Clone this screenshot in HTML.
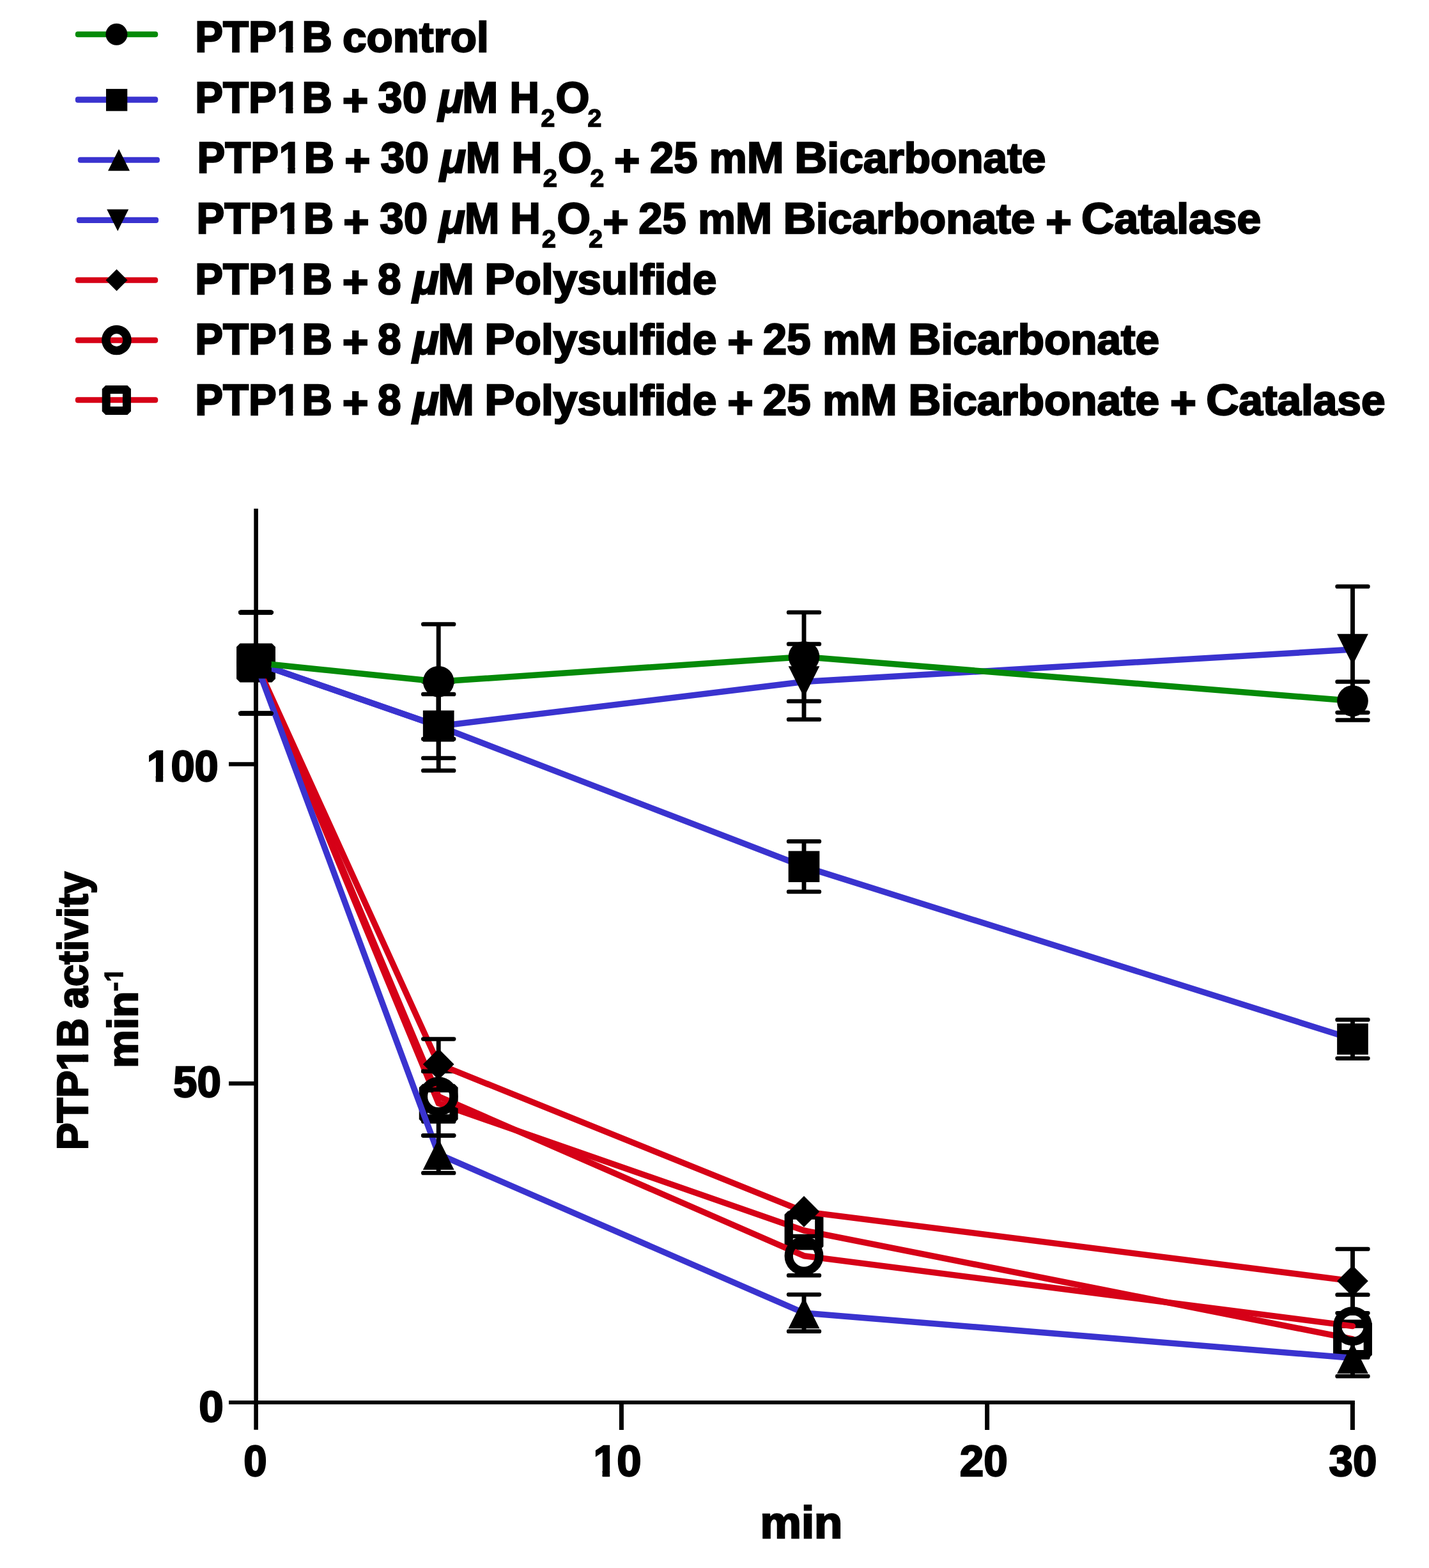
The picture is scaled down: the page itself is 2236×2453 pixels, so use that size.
<!DOCTYPE html>
<html lang="en"><head><meta charset="utf-8"><title>PTP1B activity</title>
<style>
html,body{margin:0;padding:0;background:#fff;}
body{width:2236px;height:2453px;overflow:hidden;}
svg{display:block;}
text{font-family:"Liberation Sans",sans-serif;font-weight:bold;fill:#000;stroke:#000;stroke-linejoin:miter;font-kerning:none;white-space:pre;}
.i{font-style:italic;}
.ln{fill:none;stroke-width:9.5;stroke-linecap:round;stroke-linejoin:round;}
.cap{fill:#000;stroke:none;}
.ebv{fill:none;stroke:#000;stroke-width:6.9;stroke-linecap:butt;}
.ax{fill:none;stroke:#000;stroke-width:6.4;stroke-linecap:butt;}
.m{fill:#000;stroke:none;}
.m .o{fill:none;stroke:#000;stroke-width:13.3;stroke-linejoin:bevel;}
</style></head><body>
<svg width="2236" height="2453" viewBox="0 0 2236 2453">
<rect width="2236" height="2453" fill="#fff"/>
<defs><clipPath id="nofoot" clipPathUnits="userSpaceOnUse"><path clip-rule="evenodd" d="M-10 -10H2246V2463H-10ZM434.86 71.73H447.18V83.9H434.86ZM458.35 71.73H469.91V83.9H458.35ZM434.86 166.63H447.18V178.8H434.86ZM458.35 166.63H469.91V178.8H458.35ZM438.16 260.53H450.48V272.7H438.16ZM461.65 260.53H473.21V272.7H461.65ZM437.16 355.73H449.48V367.9H437.16ZM460.65 355.73H472.21V367.9H460.65ZM434.86 450.43H447.18V462.6H434.86ZM458.35 450.43H469.91V462.6H458.35ZM434.86 544.43H447.18V556.6H434.86ZM458.35 544.43H469.91V556.6H458.35ZM434.86 639.63H447.18V651.8H434.86ZM458.35 639.63H469.91V651.8H458.35ZM929.94 2299.83H942.62V2312H929.94ZM954.15 2299.83H966.04V2312H954.15ZM231.15 1212.93H243.73V1225.1H231.15ZM255.15 1212.93H266.95V1225.1H255.15ZM127.63 1661.22H139.8V1673.75H127.63ZM127.63 1638.1H139.8V1649.85H127.63ZM186.62 1527.93H195.35V1535.8H186.62ZM186.62 1513.71H195.35V1521.15H186.62Z"/></clipPath></defs>
<g class="ax">
<path stroke-width="6.6" d="M400.6 795.8V2236.8"/>
<path stroke-width="6" d="M358 2194H2119.9"/>
<path stroke-width="7" d="M972.4 2194V2236.9M1544.6 2194V2236.9M2116.4 2194V2236.9"/>
<path stroke-width="6.5" d="M358 1694.9H400.6M358 1195.5H400.6"/>
</g>
<g id="sG">
<path class="ln" stroke="#d60017" d="M400.5 1037L686.2 1726.1L1258 1925L2116.5 2094.9"/>
<path class="ebv" d="M400.5 958V1019.8M400.5 1054.2V1116M686.2 1675.8V1708.9M686.2 1743.3V1776.4"/>
<g class="cap"><rect x="373.3" y="954.75" width="54.4" height="6.5" rx="3.1"/><rect x="373.3" y="1112.75" width="54.4" height="6.5" rx="3.1"/><rect x="659" y="1672.55" width="54.4" height="6.5" rx="3.1"/><rect x="659" y="1773.15" width="54.4" height="6.5" rx="3.1"/></g>
<g class="m"><path fill-rule="evenodd" d="M375.55 1006.55H425.45L430.95 1012.05V1061.95L425.45 1067.45H375.55L370.05 1061.95V1012.05ZM383.35 1019.85H417.65V1054.15H383.35Z"/><path fill-rule="evenodd" d="M661.25 1695.65H711.15L716.65 1701.15V1751.05L711.15 1756.55H661.25L655.75 1751.05V1701.15ZM669.05 1708.95H703.35V1743.25H669.05Z"/><path fill-rule="evenodd" d="M1233.05 1894.55H1282.95L1288.45 1900.05V1949.95L1282.95 1955.45H1233.05L1227.55 1949.95V1900.05ZM1240.85 1907.85H1275.15V1942.15H1240.85Z"/><path fill-rule="evenodd" d="M2091.55 2064.45H2141.45L2146.95 2069.95V2119.85L2141.45 2125.35H2091.55L2086.05 2119.85V2069.95ZM2099.35 2077.75H2133.65V2112.05H2099.35Z"/></g>
</g>
<g id="sF">
<path class="ln" stroke="#d60017" d="M400.5 1037L686.2 1715.3L1258 1964.7L2116.5 2074.6"/>
<path class="ebv" d="M400.5 958V1019.8M400.5 1054.2V1116M686.2 1676V1698.1M686.2 1732.5V1754.6M1258 1934.1V1947.5M1258 1981.9V1995.3M2116.5 2025.6V2057.4M2116.5 2091.8V2123.6"/>
<g class="cap"><rect x="373.3" y="954.75" width="54.4" height="6.5" rx="3.1"/><rect x="373.3" y="1112.75" width="54.4" height="6.5" rx="3.1"/><rect x="659" y="1672.75" width="54.4" height="6.5" rx="3.1"/><rect x="659" y="1751.35" width="54.4" height="6.5" rx="3.1"/><rect x="1230.8" y="1930.85" width="54.4" height="6.5" rx="3.1"/><rect x="1230.8" y="1992.05" width="54.4" height="6.5" rx="3.1"/><rect x="2089.3" y="2022.35" width="54.4" height="6.5" rx="3.1"/><rect x="2089.3" y="2120.35" width="54.4" height="6.5" rx="3.1"/></g>
<g class="m"><circle class="o" cx="400.5" cy="1037" r="23.8"/><circle class="o" cx="686.2" cy="1715.3" r="23.8"/><circle class="o" cx="1258" cy="1964.7" r="23.8"/><circle class="o" cx="2116.5" cy="2074.6" r="23.8"/></g>
</g>
<g id="sE">
<path class="ln" stroke="#d60017" d="M400.5 1037L686.2 1664.9L1258 1895.4L2116.5 2004.1"/>
<path class="ebv" d="M400.5 958V1019.8M400.5 1054.2V1116M686.2 1625.4V1647.7M686.2 1682.1V1704.4M2116.5 1954V1986.9M2116.5 2021.3V2054.2"/>
<g class="cap"><rect x="373.3" y="954.75" width="54.4" height="6.5" rx="3.1"/><rect x="373.3" y="1112.75" width="54.4" height="6.5" rx="3.1"/><rect x="659" y="1622.15" width="54.4" height="6.5" rx="3.1"/><rect x="659" y="1701.15" width="54.4" height="6.5" rx="3.1"/><rect x="2089.3" y="1950.75" width="54.4" height="6.5" rx="3.1"/><rect x="2089.3" y="2050.95" width="54.4" height="6.5" rx="3.1"/></g>
<g class="m"><path d="M400.5 1012.65L424.85 1037L400.5 1061.35L376.15 1037Z"/><path d="M686.2 1640.55L710.55 1664.9L686.2 1689.25L661.85 1664.9Z"/><path d="M1258 1871.05L1282.35 1895.4L1258 1919.75L1233.65 1895.4Z"/><path d="M2116.5 1979.75L2140.85 2004.1L2116.5 2028.45L2092.15 2004.1Z"/></g>
</g>
<g id="sD">
<path class="ln" stroke="#3a33cf" d="M400.5 1037L686.2 1136L1258 1066.5L2116.5 1016.1"/>
<path class="ebv" d="M400.5 958V1019.8M400.5 1054.2V1116M686.2 1066.4V1118.8M686.2 1153.2V1205.6M1258 1007.5V1049.3M1258 1083.7V1125.5M2116.5 917.5V998.9M2116.5 1033.3V1114.7"/>
<g class="cap"><rect x="373.3" y="954.75" width="54.4" height="6.5" rx="3.1"/><rect x="373.3" y="1112.75" width="54.4" height="6.5" rx="3.1"/><rect x="659" y="1063.15" width="54.4" height="6.5" rx="3.1"/><rect x="659" y="1202.35" width="54.4" height="6.5" rx="3.1"/><rect x="1230.8" y="1004.25" width="54.4" height="6.5" rx="3.1"/><rect x="1230.8" y="1122.25" width="54.4" height="6.5" rx="3.1"/><rect x="2089.3" y="914.25" width="54.4" height="6.5" rx="3.1"/><rect x="2089.3" y="1111.45" width="54.4" height="6.5" rx="3.1"/></g>
<g class="m"><path d="M376.15 1012.65L424.85 1012.65L400.5 1061.35Z"/><path d="M661.85 1111.65L710.55 1111.65L686.2 1160.35Z"/><path d="M1233.65 1042.15L1282.35 1042.15L1258 1090.85Z"/><path d="M2092.15 991.75L2140.85 991.75L2116.5 1040.45Z"/></g>
</g>
<g id="sC">
<path class="ln" stroke="#3a33cf" d="M400.5 1037L686.2 1805.7L1258 2054L2116.5 2124.5"/>
<path class="ebv" d="M400.5 958V1019.8M400.5 1054.2V1116M686.2 1776.4V1788.5M686.2 1822.9V1835M1258 2025.2V2036.8M1258 2071.2V2082.8M2116.5 2095.9V2107.3M2116.5 2141.7V2153.1"/>
<g class="cap"><rect x="373.3" y="954.75" width="54.4" height="6.5" rx="3.1"/><rect x="373.3" y="1112.75" width="54.4" height="6.5" rx="3.1"/><rect x="659" y="1773.15" width="54.4" height="6.5" rx="3.1"/><rect x="659" y="1831.75" width="54.4" height="6.5" rx="3.1"/><rect x="1230.8" y="2021.95" width="54.4" height="6.5" rx="3.1"/><rect x="1230.8" y="2079.55" width="54.4" height="6.5" rx="3.1"/><rect x="2089.3" y="2092.65" width="54.4" height="6.5" rx="3.1"/><rect x="2089.3" y="2149.85" width="54.4" height="6.5" rx="3.1"/></g>
<g class="m"><path d="M400.5 1012.65L424.85 1061.35L376.15 1061.35Z"/><path d="M686.2 1781.35L710.55 1830.05L661.85 1830.05Z"/><path d="M1258 2029.65L1282.35 2078.35L1233.65 2078.35Z"/><path d="M2116.5 2100.15L2140.85 2148.85L2092.15 2148.85Z"/></g>
</g>
<g id="sB">
<path class="ln" stroke="#3a33cf" d="M400.5 1037L686.2 1136L1258 1355.7L2116.5 1625.5"/>
<path class="ebv" d="M400.5 958V1019.8M400.5 1054.2V1116M686.2 1086V1118.8M686.2 1153.2V1186M1258 1316.3V1338.5M1258 1372.9V1395.1M2116.5 1595.3V1608.3M2116.5 1642.7V1655.7"/>
<g class="cap"><rect x="373.3" y="954.75" width="54.4" height="6.5" rx="3.1"/><rect x="373.3" y="1112.75" width="54.4" height="6.5" rx="3.1"/><rect x="659" y="1082.75" width="54.4" height="6.5" rx="3.1"/><rect x="659" y="1182.75" width="54.4" height="6.5" rx="3.1"/><rect x="1230.8" y="1313.05" width="54.4" height="6.5" rx="3.1"/><rect x="1230.8" y="1391.85" width="54.4" height="6.5" rx="3.1"/><rect x="2089.3" y="1592.05" width="54.4" height="6.5" rx="3.1"/><rect x="2089.3" y="1652.45" width="54.4" height="6.5" rx="3.1"/></g>
<g class="m"><rect x="376.15" y="1012.65" width="48.7" height="48.7"/><rect x="661.85" y="1111.65" width="48.7" height="48.7"/><rect x="1233.65" y="1331.35" width="48.7" height="48.7"/><rect x="2092.15" y="1601.15" width="48.7" height="48.7"/></g>
</g>
<g id="sA">
<path class="ln" stroke="#058a08" d="M400.5 1037L686.2 1066.3L1258 1027.5L2116.5 1096.6"/>
<path class="ebv" d="M400.5 958V1019.8M400.5 1054.2V1116M686.2 976.6V1049.1M686.2 1083.5V1156M1258 958V1010.3M1258 1044.7V1097M2116.5 1066.6V1079.4M2116.5 1113.8V1126.6"/>
<g class="cap"><rect x="373.3" y="954.75" width="54.4" height="6.5" rx="3.1"/><rect x="373.3" y="1112.75" width="54.4" height="6.5" rx="3.1"/><rect x="659" y="973.35" width="54.4" height="6.5" rx="3.1"/><rect x="659" y="1152.75" width="54.4" height="6.5" rx="3.1"/><rect x="1230.8" y="954.75" width="54.4" height="6.5" rx="3.1"/><rect x="1230.8" y="1093.75" width="54.4" height="6.5" rx="3.1"/><rect x="2089.3" y="1063.35" width="54.4" height="6.5" rx="3.1"/><rect x="2089.3" y="1123.35" width="54.4" height="6.5" rx="3.1"/></g>
<g class="m"><circle cx="400.5" cy="1037" r="24.35"/><circle cx="686.2" cy="1066.3" r="24.35"/><circle cx="1258" cy="1027.5" r="24.35"/><circle cx="2116.5" cy="1096.6" r="24.35"/></g>
</g>
<g id="legend-keys">
<rect fill="#058a08" x="117.8" y="49.15" width="129.4" height="9.1" rx="4"/>
<g class="m"><circle cx="182.4" cy="53.7" r="17"/></g>
<rect fill="#3a33cf" x="117.8" y="151.2" width="129.4" height="9.6" rx="4"/>
<g class="m"><rect x="165.95" y="139.1" width="33.3" height="34.6"/></g>
<rect fill="#3a33cf" x="121.8" y="245.75" width="128.2" height="9.1" rx="4"/>
<g class="m"><path d="M186 233.3L203 267.3L169 267.3Z"/></g>
<rect fill="#3a33cf" x="119.9" y="339.85" width="128.2" height="9.1" rx="4"/>
<g class="m"><path d="M167.2 327.4L201.2 327.4L184.2 361.4Z"/></g>
<rect fill="#d60017" x="117.8" y="433.65" width="129.4" height="9.1" rx="4"/>
<g class="m"><path d="M182.5 421.2L199.5 438.2L182.5 455.2L165.5 438.2Z"/></g>
<rect fill="#d60017" x="117.8" y="527.65" width="129.4" height="9.1" rx="4"/>
<g class="m"><circle class="o" cx="182.4" cy="532" r="16.65"/></g>
<rect fill="#d60017" x="117.8" y="621.25" width="129.4" height="9.1" rx="4"/>
<g class="m"><path fill-rule="evenodd" d="M165.2 603H199.4L204.9 608.5V643.5L199.4 649H165.2L159.7 643.5V608.5ZM172.7 616H191.9V636H172.7Z"/></g>
</g>
<g id="text" clip-path="url(#nofoot)">
<g id="legend">
<text><tspan x="305.25" y="80.9" font-size="69.3" stroke-width="2.4" textLength="127.35" lengthAdjust="spacingAndGlyphs">PTP</tspan><tspan x="433.43" y="80.9" font-size="69.3" stroke-width="2.4" textLength="35.66" lengthAdjust="spacingAndGlyphs">1</tspan><tspan x="472.55" y="80.9" font-size="69.3" stroke-width="2.4" textLength="47.29" lengthAdjust="spacingAndGlyphs">B</tspan> <tspan x="536.09" y="80.9" font-size="69.3" stroke-width="2.4" textLength="228.66" lengthAdjust="spacingAndGlyphs"><tspan font-size="66.1">control</tspan></tspan></text>
<text><tspan x="305.25" y="175.8" font-size="69.3" stroke-width="2.4" textLength="127.35" lengthAdjust="spacingAndGlyphs">PTP</tspan><tspan x="433.43" y="175.8" font-size="69.3" stroke-width="2.4" textLength="35.66" lengthAdjust="spacingAndGlyphs">1</tspan><tspan x="472.55" y="175.8" font-size="69.3" stroke-width="2.4" textLength="47.29" lengthAdjust="spacingAndGlyphs">B</tspan> <tspan x="535.78" y="180.4" font-size="69.3" stroke-width="2.4" textLength="40.63" lengthAdjust="spacingAndGlyphs">+</tspan> <tspan x="591.61" y="175.8" font-size="69.3" stroke-width="2.4" textLength="76.21" lengthAdjust="spacingAndGlyphs">30</tspan> <tspan class="i" x="685.77" y="175.8" font-size="66.1" stroke-width="2.4" textLength="39.18" lengthAdjust="spacingAndGlyphs">μ</tspan><tspan x="723.26" y="175.8" font-size="69.3" stroke-width="2.4" textLength="56.07" lengthAdjust="spacingAndGlyphs">M</tspan> <tspan x="797.41" y="175.8" font-size="69.3" stroke-width="2.4" textLength="46.4" lengthAdjust="spacingAndGlyphs">H</tspan><tspan x="846.52" y="198.15" font-size="38" stroke-width="1.5" textLength="21.78" lengthAdjust="spacingAndGlyphs">2</tspan><tspan x="869.49" y="175.8" font-size="69.3" stroke-width="2.4" textLength="53" lengthAdjust="spacingAndGlyphs">O</tspan><tspan x="919.42" y="198.15" font-size="38" stroke-width="1.5" textLength="21.78" lengthAdjust="spacingAndGlyphs">2</tspan></text>
<text><tspan x="308.55" y="269.7" font-size="69.3" stroke-width="2.4" textLength="127.35" lengthAdjust="spacingAndGlyphs">PTP</tspan><tspan x="436.73" y="269.7" font-size="69.3" stroke-width="2.4" textLength="35.66" lengthAdjust="spacingAndGlyphs">1</tspan><tspan x="475.85" y="269.7" font-size="69.3" stroke-width="2.4" textLength="47.29" lengthAdjust="spacingAndGlyphs">B</tspan> <tspan x="539.2" y="274.3" font-size="69.3" stroke-width="2.4" textLength="40.2" lengthAdjust="spacingAndGlyphs">+</tspan> <tspan x="595.62" y="269.7" font-size="69.3" stroke-width="2.4" textLength="75.49" lengthAdjust="spacingAndGlyphs">30</tspan> <tspan class="i" x="688.55" y="269.7" font-size="66.1" stroke-width="2.4" textLength="40.38" lengthAdjust="spacingAndGlyphs">μ</tspan><tspan x="728.78" y="269.7" font-size="69.3" stroke-width="2.4" textLength="54.03" lengthAdjust="spacingAndGlyphs">M</tspan> <tspan x="800.61" y="269.7" font-size="69.3" stroke-width="2.4" textLength="47.91" lengthAdjust="spacingAndGlyphs">H</tspan><tspan x="849.81" y="292.05" font-size="38" stroke-width="1.5" textLength="22.1" lengthAdjust="spacingAndGlyphs">2</tspan><tspan x="872.99" y="269.7" font-size="69.3" stroke-width="2.4" textLength="52.78" lengthAdjust="spacingAndGlyphs">O</tspan><tspan x="923.42" y="292.05" font-size="38" stroke-width="1.5" textLength="21.67" lengthAdjust="spacingAndGlyphs">2</tspan> <tspan x="961" y="274.3" font-size="69.3" stroke-width="2.4" textLength="40.31" lengthAdjust="spacingAndGlyphs">+</tspan> <tspan x="1017.04" y="269.7" font-size="69.3" stroke-width="2.4" textLength="74.47" lengthAdjust="spacingAndGlyphs">25</tspan> <tspan x="1109.83" y="269.7" font-size="69.3" stroke-width="2.4" textLength="116.81" lengthAdjust="spacingAndGlyphs"><tspan font-size="66.1">m</tspan>M</tspan> <tspan x="1243.18" y="269.7" font-size="69.3" stroke-width="2.4" textLength="393.2" lengthAdjust="spacingAndGlyphs">B<tspan font-size="66.1">icarbonate</tspan></tspan></text>
<text><tspan x="307.55" y="364.9" font-size="69.3" stroke-width="2.4" textLength="127.35" lengthAdjust="spacingAndGlyphs">PTP</tspan><tspan x="435.73" y="364.9" font-size="69.3" stroke-width="2.4" textLength="35.66" lengthAdjust="spacingAndGlyphs">1</tspan><tspan x="474.85" y="364.9" font-size="69.3" stroke-width="2.4" textLength="47.29" lengthAdjust="spacingAndGlyphs">B</tspan> <tspan x="537.29" y="369.5" font-size="69.3" stroke-width="2.4" textLength="40.41" lengthAdjust="spacingAndGlyphs">+</tspan> <tspan x="594.32" y="364.9" font-size="69.3" stroke-width="2.4" textLength="74.87" lengthAdjust="spacingAndGlyphs">30</tspan> <tspan class="i" x="687.16" y="364.9" font-size="66.1" stroke-width="2.4" textLength="40.47" lengthAdjust="spacingAndGlyphs">μ</tspan><tspan x="726.96" y="364.9" font-size="69.3" stroke-width="2.4" textLength="54.49" lengthAdjust="spacingAndGlyphs">M</tspan> <tspan x="798.45" y="364.9" font-size="69.3" stroke-width="2.4" textLength="47.33" lengthAdjust="spacingAndGlyphs">H</tspan><tspan x="848.11" y="387.25" font-size="38" stroke-width="1.5" textLength="21.89" lengthAdjust="spacingAndGlyphs">2</tspan><tspan x="871.4" y="364.9" font-size="69.3" stroke-width="2.4" textLength="52.46" lengthAdjust="spacingAndGlyphs">O</tspan><tspan x="921.32" y="387.25" font-size="38" stroke-width="1.5" textLength="21.78" lengthAdjust="spacingAndGlyphs">2</tspan><tspan x="943.3" y="369.5" font-size="69.3" stroke-width="2.4" textLength="40.31" lengthAdjust="spacingAndGlyphs">+</tspan> <tspan x="999.14" y="364.9" font-size="69.3" stroke-width="2.4" textLength="74.57" lengthAdjust="spacingAndGlyphs">25</tspan> <tspan x="1092.25" y="364.9" font-size="69.3" stroke-width="2.4" textLength="116.17" lengthAdjust="spacingAndGlyphs"><tspan font-size="66.1">m</tspan>M</tspan> <tspan x="1225.48" y="364.9" font-size="69.3" stroke-width="2.4" textLength="394.01" lengthAdjust="spacingAndGlyphs">B<tspan font-size="66.1">icarbonate</tspan></tspan> <tspan x="1636.28" y="369.5" font-size="69.3" stroke-width="2.4" textLength="40.63" lengthAdjust="spacingAndGlyphs">+</tspan> <tspan x="1692.12" y="364.9" font-size="69.3" stroke-width="2.4" textLength="280.97" lengthAdjust="spacingAndGlyphs">C<tspan font-size="66.1">atalase</tspan></tspan></text>
<text><tspan x="305.25" y="459.6" font-size="69.3" stroke-width="2.4" textLength="127.35" lengthAdjust="spacingAndGlyphs">PTP</tspan><tspan x="433.43" y="459.6" font-size="69.3" stroke-width="2.4" textLength="35.66" lengthAdjust="spacingAndGlyphs">1</tspan><tspan x="472.55" y="459.6" font-size="69.3" stroke-width="2.4" textLength="47.29" lengthAdjust="spacingAndGlyphs">B</tspan> <tspan x="535.77" y="464.2" font-size="69.3" stroke-width="2.4" textLength="40.85" lengthAdjust="spacingAndGlyphs">+</tspan> <tspan x="591.05" y="459.6" font-size="69.3" stroke-width="2.4" textLength="36.64" lengthAdjust="spacingAndGlyphs">8</tspan> <tspan class="i" x="645.89" y="459.6" font-size="66.1" stroke-width="2.4" textLength="40.94" lengthAdjust="spacingAndGlyphs">μ</tspan><tspan x="685.14" y="459.6" font-size="69.3" stroke-width="2.4" textLength="56.53" lengthAdjust="spacingAndGlyphs">M</tspan> <tspan x="758.28" y="459.6" font-size="69.3" stroke-width="2.4" textLength="363" lengthAdjust="spacingAndGlyphs">P<tspan font-size="66.1">olysulfide</tspan></tspan></text>
<text><tspan x="305.25" y="553.6" font-size="69.3" stroke-width="2.4" textLength="127.35" lengthAdjust="spacingAndGlyphs">PTP</tspan><tspan x="433.43" y="553.6" font-size="69.3" stroke-width="2.4" textLength="35.66" lengthAdjust="spacingAndGlyphs">1</tspan><tspan x="472.55" y="553.6" font-size="69.3" stroke-width="2.4" textLength="47.29" lengthAdjust="spacingAndGlyphs">B</tspan> <tspan x="535.77" y="558.2" font-size="69.3" stroke-width="2.4" textLength="40.85" lengthAdjust="spacingAndGlyphs">+</tspan> <tspan x="591.05" y="553.6" font-size="69.3" stroke-width="2.4" textLength="36.64" lengthAdjust="spacingAndGlyphs">8</tspan> <tspan class="i" x="645.89" y="553.6" font-size="66.1" stroke-width="2.4" textLength="40.94" lengthAdjust="spacingAndGlyphs">μ</tspan><tspan x="685.14" y="553.6" font-size="69.3" stroke-width="2.4" textLength="56.53" lengthAdjust="spacingAndGlyphs">M</tspan> <tspan x="758.28" y="553.6" font-size="69.3" stroke-width="2.4" textLength="363" lengthAdjust="spacingAndGlyphs">P<tspan font-size="66.1">olysulfide</tspan></tspan> <tspan x="1138.19" y="558.2" font-size="69.3" stroke-width="2.4" textLength="40.41" lengthAdjust="spacingAndGlyphs">+</tspan> <tspan x="1193.83" y="553.6" font-size="69.3" stroke-width="2.4" textLength="74.77" lengthAdjust="spacingAndGlyphs">25</tspan> <tspan x="1287.34" y="553.6" font-size="69.3" stroke-width="2.4" textLength="116.49" lengthAdjust="spacingAndGlyphs"><tspan font-size="66.1">m</tspan>M</tspan> <tspan x="1421.39" y="553.6" font-size="69.3" stroke-width="2.4" textLength="392.79" lengthAdjust="spacingAndGlyphs">B<tspan font-size="66.1">icarbonate</tspan></tspan></text>
<text><tspan x="305.25" y="648.8" font-size="69.3" stroke-width="2.4" textLength="127.35" lengthAdjust="spacingAndGlyphs">PTP</tspan><tspan x="433.43" y="648.8" font-size="69.3" stroke-width="2.4" textLength="35.66" lengthAdjust="spacingAndGlyphs">1</tspan><tspan x="472.55" y="648.8" font-size="69.3" stroke-width="2.4" textLength="47.29" lengthAdjust="spacingAndGlyphs">B</tspan> <tspan x="535.77" y="653.4" font-size="69.3" stroke-width="2.4" textLength="40.85" lengthAdjust="spacingAndGlyphs">+</tspan> <tspan x="591.05" y="648.8" font-size="69.3" stroke-width="2.4" textLength="36.64" lengthAdjust="spacingAndGlyphs">8</tspan> <tspan class="i" x="645.89" y="648.8" font-size="66.1" stroke-width="2.4" textLength="40.94" lengthAdjust="spacingAndGlyphs">μ</tspan><tspan x="685.14" y="648.8" font-size="69.3" stroke-width="2.4" textLength="56.53" lengthAdjust="spacingAndGlyphs">M</tspan> <tspan x="758.28" y="648.8" font-size="69.3" stroke-width="2.4" textLength="363" lengthAdjust="spacingAndGlyphs">P<tspan font-size="66.1">olysulfide</tspan></tspan> <tspan x="1138.19" y="653.4" font-size="69.3" stroke-width="2.4" textLength="40.41" lengthAdjust="spacingAndGlyphs">+</tspan> <tspan x="1193.83" y="648.8" font-size="69.3" stroke-width="2.4" textLength="74.77" lengthAdjust="spacingAndGlyphs">25</tspan> <tspan x="1287.34" y="648.8" font-size="69.3" stroke-width="2.4" textLength="116.49" lengthAdjust="spacingAndGlyphs"><tspan font-size="66.1">m</tspan>M</tspan> <tspan x="1421.39" y="648.8" font-size="69.3" stroke-width="2.4" textLength="392.79" lengthAdjust="spacingAndGlyphs">B<tspan font-size="66.1">icarbonate</tspan></tspan> <tspan x="1830.97" y="653.4" font-size="69.3" stroke-width="2.4" textLength="40.96" lengthAdjust="spacingAndGlyphs">+</tspan> <tspan x="1887.22" y="648.8" font-size="69.3" stroke-width="2.4" textLength="280.26" lengthAdjust="spacingAndGlyphs">C<tspan font-size="66.1">atalase</tspan></tspan></text>
</g>
<g id="ticks">
<text><tspan x="381.24" y="2309" font-size="69.3" stroke-width="2.4" textLength="36.41" lengthAdjust="spacingAndGlyphs">0</tspan></text>
<text><tspan x="928.42" y="2309" font-size="69.3" stroke-width="2.4" textLength="36.82" lengthAdjust="spacingAndGlyphs">1</tspan><tspan x="965.37" y="2309" font-size="69.3" stroke-width="2.4" textLength="38.37" lengthAdjust="spacingAndGlyphs">0</tspan></text>
<text><tspan x="1501.73" y="2309" font-size="69.3" stroke-width="2.4" textLength="74.97" lengthAdjust="spacingAndGlyphs">20</tspan></text>
<text><tspan x="2079.62" y="2309" font-size="69.3" stroke-width="2.4" textLength="74.98" lengthAdjust="spacingAndGlyphs">30</tspan></text>
<text><tspan x="311.36" y="2224" font-size="69.3" stroke-width="2.4" textLength="38.48" lengthAdjust="spacingAndGlyphs">0</tspan></text>
<text><tspan x="270.99" y="1716.1" font-size="69.3" stroke-width="2.4" textLength="74.9" lengthAdjust="spacingAndGlyphs">50</tspan></text>
<text><tspan x="229.65" y="1222.1" font-size="69.3" stroke-width="2.4" textLength="36.48" lengthAdjust="spacingAndGlyphs">1</tspan><tspan x="267.41" y="1222.1" font-size="69.3" stroke-width="2.4" textLength="74.37" lengthAdjust="spacingAndGlyphs">00</tspan></text>
</g>
<g id="titles">
<text><tspan x="1189.58" y="2405.6" font-size="69.5" stroke-width="2.6" textLength="128.76" lengthAdjust="spacingAndGlyphs">min</tspan></text>
<text transform="translate(138 1796) rotate(-90)"><tspan x="-3.17" y="-1.2" font-size="69.3" stroke-width="2.4" textLength="124.45" lengthAdjust="spacingAndGlyphs">PTP</tspan><tspan x="120.77" y="-1.2" font-size="69.3" stroke-width="2.4" textLength="36.32" lengthAdjust="spacingAndGlyphs">1</tspan><tspan x="157.05" y="-1.2" font-size="69.3" stroke-width="2.4" textLength="45.94" lengthAdjust="spacingAndGlyphs">B</tspan> <tspan x="218.31" y="-1.2" font-size="69.3" stroke-width="2.4" textLength="213.9" lengthAdjust="spacingAndGlyphs"><tspan font-size="66.1">activity</tspan></tspan></text>
<text transform="translate(216.3 1667.7) rotate(-90)"><tspan x="-3.23" y="-1.2" font-size="69.3" stroke-width="2.4" textLength="120.09" lengthAdjust="spacingAndGlyphs"><tspan font-size="66.1">min</tspan></tspan><tspan x="117.23" y="-23.95" font-size="40" stroke-width="1.5" textLength="14.28" lengthAdjust="spacingAndGlyphs">-</tspan><tspan x="131.72" y="-23.95" font-size="40" stroke-width="1.5" textLength="21.12" lengthAdjust="spacingAndGlyphs">1</tspan></text>
</g>
</g>
</svg>
</body></html>
